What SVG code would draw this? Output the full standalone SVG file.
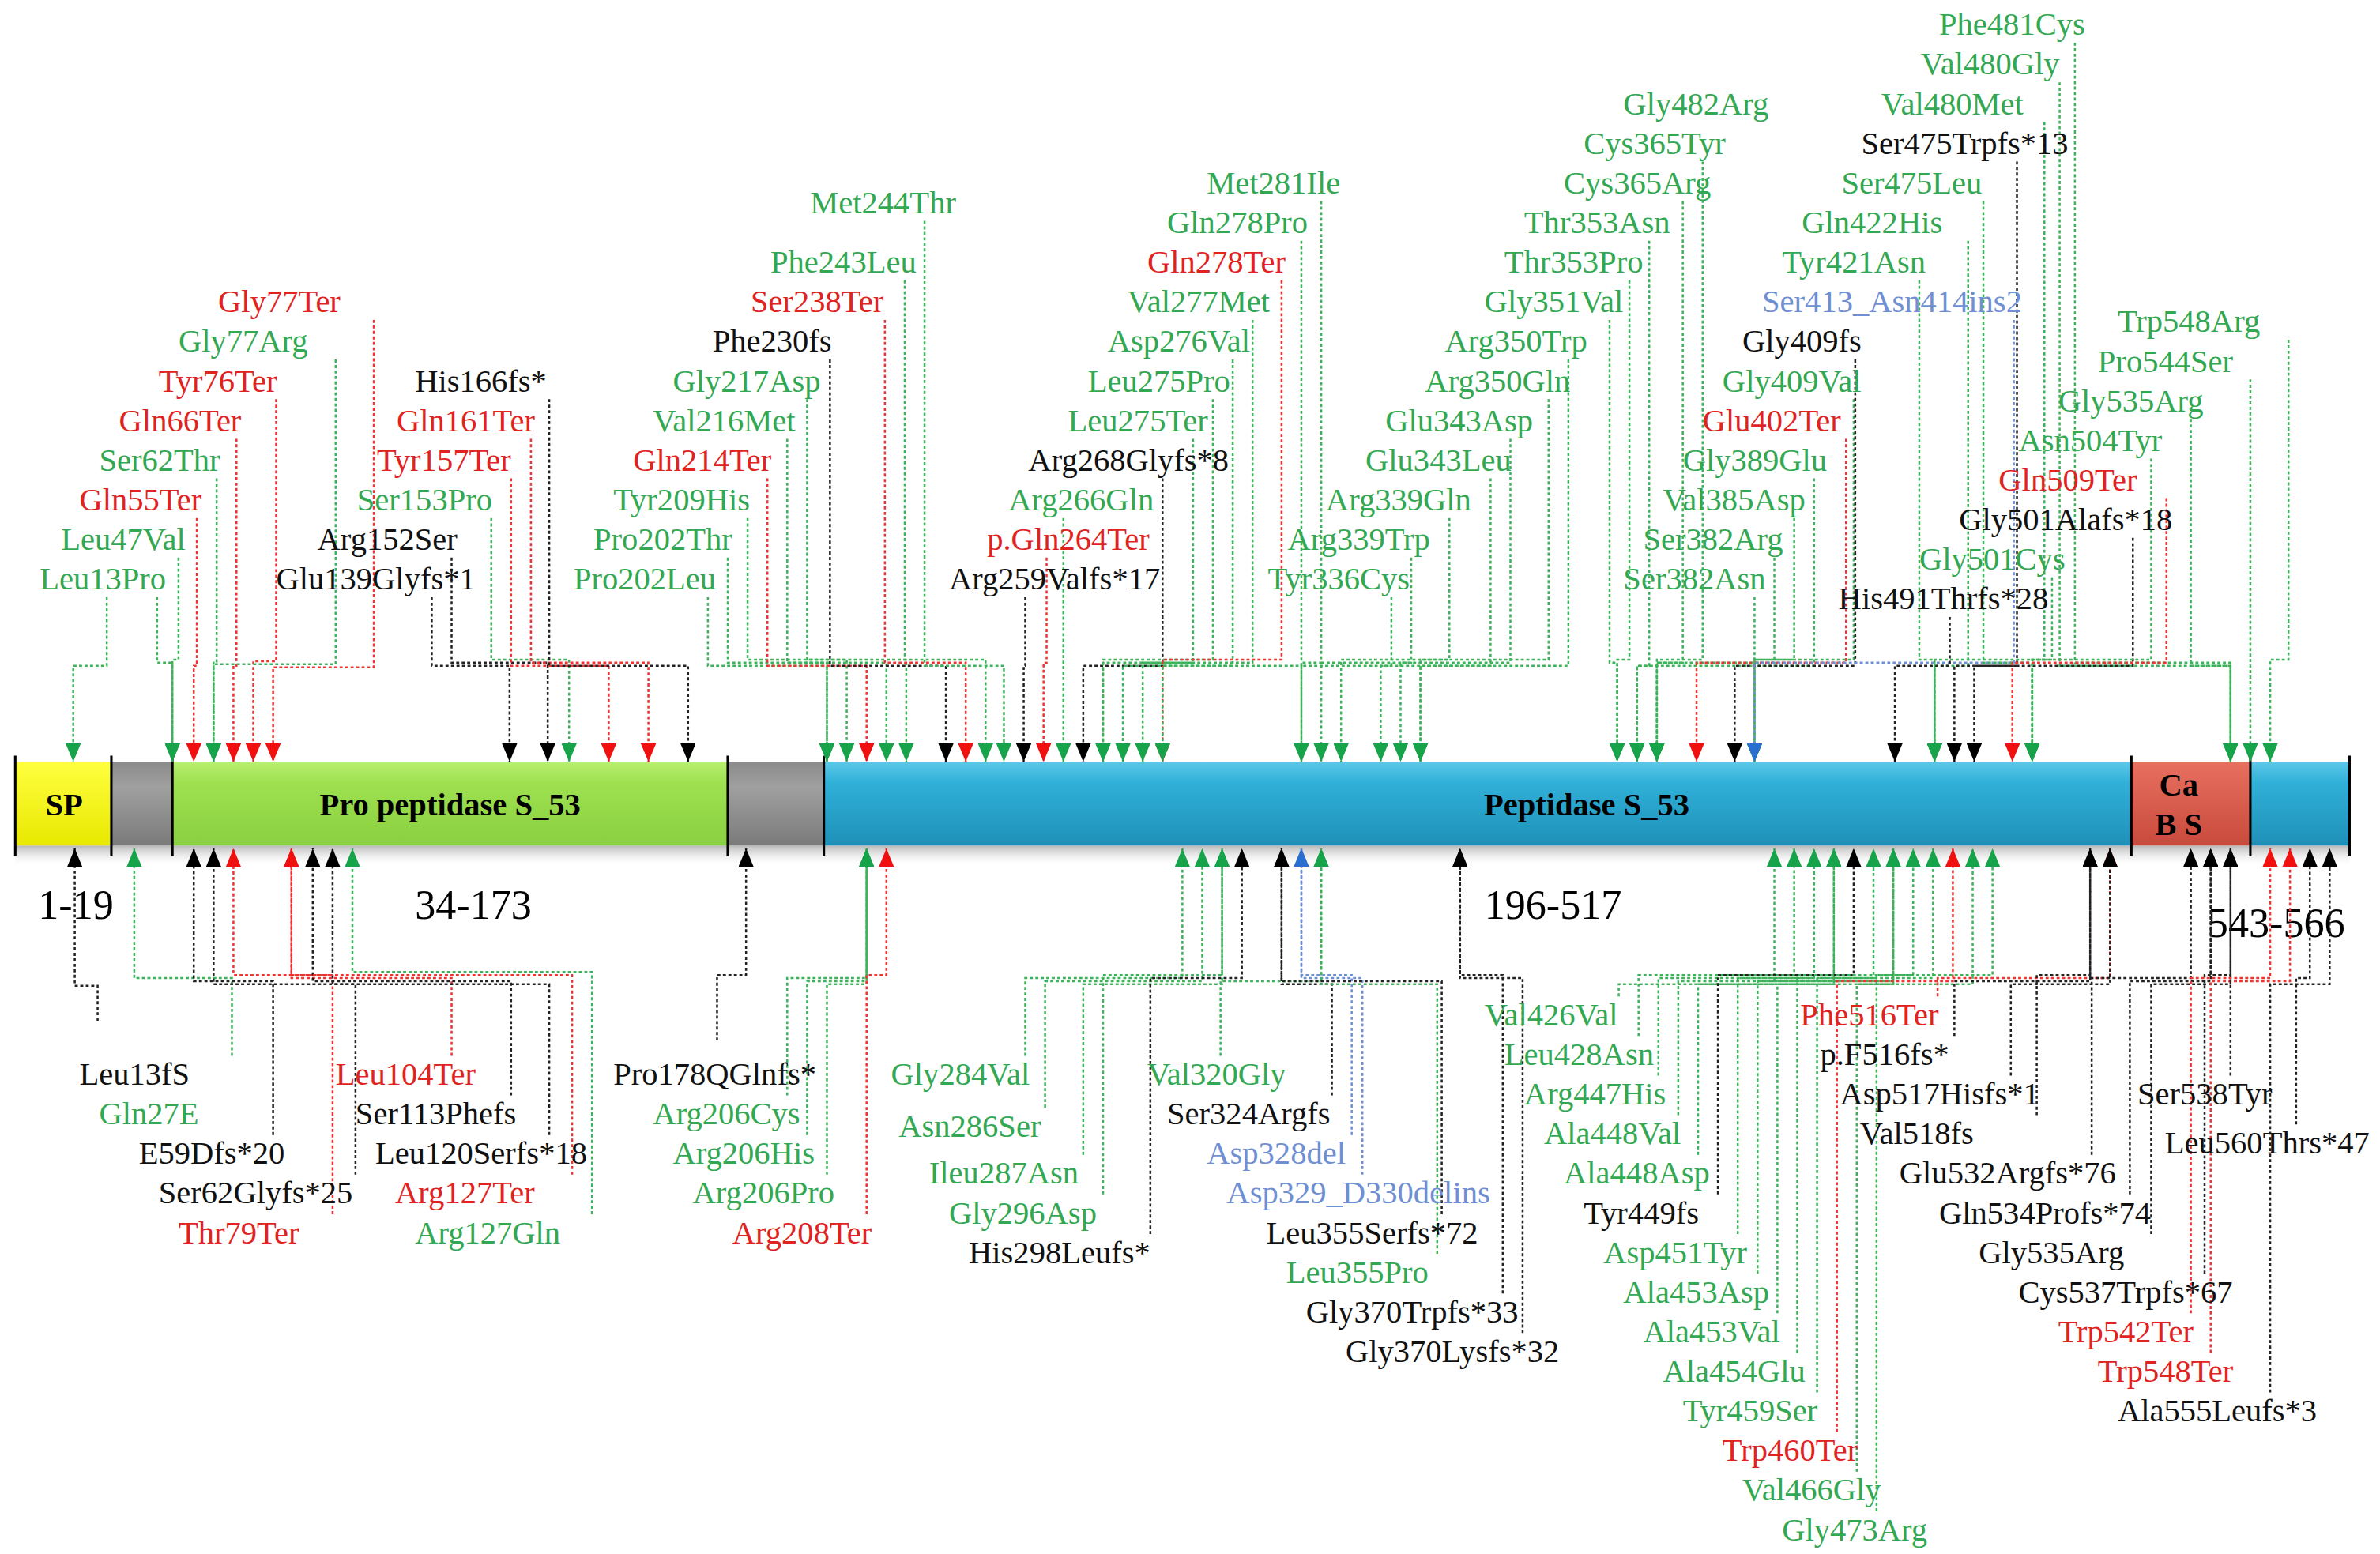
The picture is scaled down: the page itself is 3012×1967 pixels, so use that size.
<svg xmlns="http://www.w3.org/2000/svg" width="3012" height="1967" viewBox="0 0 3012 1967">
<style>
text{font-family:"Liberation Serif","Times New Roman",serif;font-size:21px}
.tg{fill:#33a852}.tr{fill:#e0231f}.tk{fill:#111}.tb{fill:#6f8fd3}
.dom{font-weight:bold;font-size:21px}
.num{font-size:27px}
path.c{fill:none;stroke-width:1.3;stroke-dasharray:2 1.6}
.g{stroke:#3cb35a;marker-end:url(#mg)}.r{stroke:#e33;marker-end:url(#mr)}.k{stroke:#222;marker-end:url(#mk)}.b{stroke:#6f8fd3;marker-end:url(#mb)}
.sep{stroke:#000;stroke-width:1.6}
</style>
<defs>
<marker id="mg" viewBox="0 0 12 10" refX="12" refY="5" markerWidth="12" markerHeight="10" markerUnits="userSpaceOnUse" orient="auto"><path d="M0,0L12,5L0,10z" fill="#17a34a"/></marker>
<marker id="mr" viewBox="0 0 12 10" refX="12" refY="5" markerWidth="12" markerHeight="10" markerUnits="userSpaceOnUse" orient="auto"><path d="M0,0L12,5L0,10z" fill="#f01010"/></marker>
<marker id="mk" viewBox="0 0 12 10" refX="12" refY="5" markerWidth="12" markerHeight="10" markerUnits="userSpaceOnUse" orient="auto"><path d="M0,0L12,5L0,10z" fill="#000"/></marker>
<marker id="mb" viewBox="0 0 12 10" refX="12" refY="5" markerWidth="12" markerHeight="10" markerUnits="userSpaceOnUse" orient="auto"><path d="M0,0L12,5L0,10z" fill="#2a6fd0"/></marker>
<linearGradient id="gy" x1="0" y1="0" x2="0" y2="1"><stop offset="0" stop-color="#ffff40"/><stop offset="1" stop-color="#e8e800"/></linearGradient>
<linearGradient id="gg" x1="0" y1="0" x2="0" y2="1"><stop offset="0" stop-color="#8a8a8a"/><stop offset="0.3" stop-color="#a0a0a0"/><stop offset="1" stop-color="#7a7a7a"/></linearGradient>
<linearGradient id="gl" x1="0" y1="0" x2="0" y2="1"><stop offset="0" stop-color="#b8f070"/><stop offset="0.25" stop-color="#9ee050"/><stop offset="1" stop-color="#8ad040"/></linearGradient>
<linearGradient id="gb" x1="0" y1="0" x2="0" y2="1"><stop offset="0" stop-color="#5cc8e8"/><stop offset="0.25" stop-color="#30b0d8"/><stop offset="1" stop-color="#1e90b8"/></linearGradient>
<linearGradient id="gr" x1="0" y1="0" x2="0" y2="1"><stop offset="0" stop-color="#e87060"/><stop offset="1" stop-color="#c84a3c"/></linearGradient>
<linearGradient id="sh" x1="0" y1="0" x2="0" y2="1"><stop offset="0" stop-color="#999" stop-opacity="0.7"/><stop offset="1" stop-color="#fff" stop-opacity="0"/></linearGradient>
</defs>
<rect width="3012" height="1967" fill="#fff"/>
<g transform="scale(1.9308,1.9284)">
<rect x="10" y="555" width="1530" height="14" fill="url(#sh)"/>
<g id="sp"><rect x="10" y="500" width="63" height="55" fill="url(#gy)"/><text class="dom" x="42" y="535" text-anchor="middle">SP</text></g>
<g id="gap1"><rect x="73" y="500" width="40" height="55" fill="url(#gg)"/></g>
<g id="pro"><rect x="113" y="500" width="364" height="55" fill="url(#gl)"/><text class="dom" x="295" y="535" text-anchor="middle">Pro peptidase S_53</text></g>
<g id="gap2"><rect x="477" y="500" width="63" height="55" fill="url(#gg)"/></g>
<g id="pep"><rect x="540" y="500" width="857" height="55" fill="url(#gb)"/><text class="dom" x="1040" y="535" text-anchor="middle">Peptidase S_53</text></g>
<g id="cabs"><rect x="1397" y="500" width="78" height="55" fill="url(#gr)"/><text class="dom" x="1428" y="522" text-anchor="middle">Ca</text><text class="dom" x="1428" y="548" text-anchor="middle">B S</text></g>
<g id="tail"><rect x="1475" y="500" width="65" height="55" fill="url(#gb)"/></g>
<g id="seps">
<path class="sep" d="M10 496V562M73 496V562M113 496V562M477 496V562M540 496V562M1397 496V562M1475 496V562M1540 496V562"/>
</g>
<g id="ranges">
<text class="num" x="25" y="603">1-19</text><text class="num" x="272" y="603">34-173</text><text class="num" x="973" y="603">196-517</text><text class="num" x="1447" y="615">543-566</text>
</g>
<g id="connectors">
<path class="c g" d="M70 392V437H48V500"/>
<path class="c g" d="M103 392V435H113V500"/>
<path class="c g" d="M117 366V433H113V500"/>
<path class="c r" d="M129 340V437H127V500"/>
<path class="c g" d="M142 314V435H140V500"/>
<path class="c r" d="M155 288V437H153V500"/>
<path class="c r" d="M181 262V434H166V500"/>
<path class="c g" d="M220 236V436H140V500"/>
<path class="c r" d="M245 210V438H179V500"/>
<path class="c k" d="M283 392V437H334V500"/>
<path class="c k" d="M296 366V435H359V500"/>
<path class="c g" d="M322 340V433H373V500"/>
<path class="c r" d="M335 314V437H399V500"/>
<path class="c r" d="M348 288V435H425V500"/>
<path class="c k" d="M360 262V437H451V500"/>
<path class="c g" d="M464 392V437H542V500"/>
<path class="c g" d="M477 366V435H542V500"/>
<path class="c g" d="M490 340V433H555V500"/>
<path class="c r" d="M503 314V437H568V500"/>
<path class="c g" d="M516 288V435H581V500"/>
<path class="c g" d="M529 262V433H594V500"/>
<path class="c k" d="M544 236V437H620V500"/>
<path class="c r" d="M580 210V435H633V500"/>
<path class="c g" d="M593 184V433H646V500"/>
<path class="c g" d="M606 145V437H658V500"/>
<path class="c k" d="M672 392V437H671V500"/>
<path class="c r" d="M686 366V435H684V500"/>
<path class="c g" d="M697 340V433H697V500"/>
<path class="c k" d="M762 314V437H710V500"/>
<path class="c g" d="M782 288V435H723V500"/>
<path class="c g" d="M795 262V433H723V500"/>
<path class="c g" d="M808 236V437H736V500"/>
<path class="c g" d="M821 210V435H749V500"/>
<path class="c r" d="M840 184V433H762V500"/>
<path class="c g" d="M853 158V437H762V500"/>
<path class="c g" d="M866 132V435H853V500"/>
<path class="c g" d="M912 392V437H853V500"/>
<path class="c g" d="M925 366V435H866V500"/>
<path class="c g" d="M950 340V433H879V500"/>
<path class="c g" d="M977 314V437H905V500"/>
<path class="c g" d="M990 288V435H918V500"/>
<path class="c g" d="M1015 262V433H931V500"/>
<path class="c g" d="M1028 236V437H931V500"/>
<path class="c g" d="M1055 210V435H1060V500"/>
<path class="c g" d="M1068 184V433H1060V500"/>
<path class="c g" d="M1081 158V437H1073V500"/>
<path class="c g" d="M1103 132V435H1086V500"/>
<path class="c g" d="M1116 106V433H1086V500"/>
<path class="c g" d="M1150 392V437H1073V500"/>
<path class="c g" d="M1163 366V435H1086V500"/>
<path class="c g" d="M1176 340V433H1150V500"/>
<path class="c g" d="M1189 314V437H1150V500"/>
<path class="c r" d="M1210 288V435H1112V500"/>
<path class="c g" d="M1215 262V433H1150V500"/>
<path class="c k" d="M1216 236V437H1137V500"/>
<path class="c b" d="M1320 210V435H1150V500"/>
<path class="c g" d="M1258 184V433H1268V500"/>
<path class="c g" d="M1290 158V437H1268V500"/>
<path class="c g" d="M1300 132V435H1332V500"/>
<path class="c k" d="M1322 106V437H1294V500"/>
<path class="c g" d="M1340 80V433H1332V500"/>
<path class="c g" d="M1350 54V437H1462V500"/>
<path class="c g" d="M1360 28V435H1462V500"/>
<path class="c k" d="M1278 405V437H1242V500"/>
<path class="c g" d="M1345 379V433H1268V500"/>
<path class="c k" d="M1398 353V437H1281V500"/>
<path class="c r" d="M1420 327V435H1319V500"/>
<path class="c g" d="M1410 301V433H1332V500"/>
<path class="c g" d="M1436 275V437H1462V500"/>
<path class="c g" d="M1475 249V435H1475V500"/>
<path class="c g" d="M1500 223V433H1488V500"/>
<path class="c k" d="M64 670V647H49V557"/>
<path class="c g" d="M152 693V642H88V557"/>
<path class="c k" d="M179 745V644H127V557"/>
<path class="c k" d="M233 771V646H140V557"/>
<path class="c r" d="M218 797V640H153V557"/>
<path class="c r" d="M296 693V642H191V557"/>
<path class="c k" d="M335 719V644H205V557"/>
<path class="c k" d="M360 745V646H218V557"/>
<path class="c r" d="M375 771V640H191V557"/>
<path class="c g" d="M388 797V638H231V557"/>
<path class="c k" d="M470 683V640H489V557"/>
<path class="c g" d="M516 719V642H568V557"/>
<path class="c g" d="M529 745V644H568V557"/>
<path class="c g" d="M542 771V646H568V557"/>
<path class="c r" d="M568 797V640H581V557"/>
<path class="c g" d="M672 693V642H775V557"/>
<path class="c g" d="M685 727V644H788V557"/>
<path class="c g" d="M710 758V646H801V557"/>
<path class="c g" d="M723 784V640H801V557"/>
<path class="c k" d="M754 810V642H814V557"/>
<path class="c g" d="M800 693V644H866V557"/>
<path class="c k" d="M873 719V646H840V557"/>
<path class="c b" d="M886 745V640H853V557"/>
<path class="c b" d="M893 771V642H853V557"/>
<path class="c k" d="M945 797V644H840V557"/>
<path class="c g" d="M942 823V646H866V557"/>
<path class="c k" d="M985 849V640H957V557"/>
<path class="c k" d="M998 875V642H957V557"/>
<path class="c g" d="M1061 654V646H1163V557"/>
<path class="c g" d="M1074 680V640H1176V557"/>
<path class="c g" d="M1087 706V642H1189V557"/>
<path class="c g" d="M1100 732V644H1202V557"/>
<path class="c g" d="M1113 758V646H1202V557"/>
<path class="c k" d="M1126 784V640H1215V557"/>
<path class="c g" d="M1139 810V642H1228V557"/>
<path class="c g" d="M1152 836V644H1241V557"/>
<path class="c g" d="M1165 862V646H1241V557"/>
<path class="c g" d="M1178 888V640H1254V557"/>
<path class="c g" d="M1191 914V642H1267V557"/>
<path class="c r" d="M1204 940V644H1280V557"/>
<path class="c g" d="M1217 966V646H1293V557"/>
<path class="c g" d="M1230 992V640H1306V557"/>
<path class="c r" d="M1270 654V642H1383V557"/>
<path class="c k" d="M1281 680V644H1370V557"/>
<path class="c k" d="M1318 706V646H1383V557"/>
<path class="c k" d="M1335 732V640H1370V557"/>
<path class="c k" d="M1371 758V642H1436V557"/>
<path class="c k" d="M1396 784V644H1449V557"/>
<path class="c k" d="M1410 810V646H1462V557"/>
<path class="c k" d="M1445 836V640H1462V557"/>
<path class="c r" d="M1436 862V642H1488V557"/>
<path class="c r" d="M1449 888V644H1501V557"/>
<path class="c k" d="M1488 914V646H1527V557"/>
<path class="c k" d="M1462 706V640H1449V557"/>
<path class="c k" d="M1505 738V642H1514V557"/>
</g>
<g id="labels">
<text class="tg" x="26" y="387">Leu13Pro</text>
<text class="tg" x="40" y="361">Leu47Val</text>
<text class="tr" x="52" y="335">Gln55Ter</text>
<text class="tg" x="65" y="309">Ser62Thr</text>
<text class="tr" x="78" y="283">Gln66Ter</text>
<text class="tr" x="104" y="257">Tyr76Ter</text>
<text class="tg" x="117" y="231">Gly77Arg</text>
<text class="tr" x="143" y="205">Gly77Ter</text>
<text class="tk" x="181" y="387">Glu139Glyfs*1</text>
<text class="tk" x="208" y="361">Arg152Ser</text>
<text class="tg" x="234" y="335">Ser153Pro</text>
<text class="tr" x="247" y="309">Tyr157Ter</text>
<text class="tr" x="260" y="283">Gln161Ter</text>
<text class="tk" x="272" y="257">His166fs*</text>
<text class="tg" x="376" y="387">Pro202Leu</text>
<text class="tg" x="389" y="361">Pro202Thr</text>
<text class="tg" x="402" y="335">Tyr209His</text>
<text class="tr" x="415" y="309">Gln214Ter</text>
<text class="tg" x="428" y="283">Val216Met</text>
<text class="tg" x="441" y="257">Gly217Asp</text>
<text class="tk" x="467" y="231">Phe230fs</text>
<text class="tr" x="492" y="205">Ser238Ter</text>
<text class="tg" x="505" y="179">Phe243Leu</text>
<text class="tg" x="531" y="140">Met244Thr</text>
<text class="tk" x="622" y="387">Arg259Valfs*17</text>
<text class="tr" x="647" y="361">p.Gln264Ter</text>
<text class="tg" x="661" y="335">Arg266Gln</text>
<text class="tk" x="674" y="309">Arg268Glyfs*8</text>
<text class="tg" x="700" y="283">Leu275Ter</text>
<text class="tg" x="713" y="257">Leu275Pro</text>
<text class="tg" x="726" y="231">Asp276Val</text>
<text class="tg" x="739" y="205">Val277Met</text>
<text class="tr" x="752" y="179">Gln278Ter</text>
<text class="tg" x="765" y="153">Gln278Pro</text>
<text class="tg" x="791" y="127">Met281Ile</text>
<text class="tg" x="831" y="387">Tyr336Cys</text>
<text class="tg" x="844" y="361">Arg339Trp</text>
<text class="tg" x="869" y="335">Arg339Gln</text>
<text class="tg" x="895" y="309">Glu343Leu</text>
<text class="tg" x="908" y="283">Glu343Asp</text>
<text class="tg" x="934" y="257">Arg350Gln</text>
<text class="tg" x="947" y="231">Arg350Trp</text>
<text class="tg" x="973" y="205">Gly351Val</text>
<text class="tg" x="986" y="179">Thr353Pro</text>
<text class="tg" x="999" y="153">Thr353Asn</text>
<text class="tg" x="1025" y="127">Cys365Arg</text>
<text class="tg" x="1038" y="101">Cys365Tyr</text>
<text class="tg" x="1064" y="75">Gly482Arg</text>
<text class="tg" x="1064" y="387">Ser382Asn</text>
<text class="tg" x="1077" y="361">Ser382Arg</text>
<text class="tg" x="1090" y="335">Val385Asp</text>
<text class="tg" x="1103" y="309">Gly389Glu</text>
<text class="tr" x="1116" y="283">Glu402Ter</text>
<text class="tg" x="1129" y="257">Gly409Val</text>
<text class="tk" x="1142" y="231">Gly409fs</text>
<text class="tb" x="1155" y="205">Ser413_Asn414ins2</text>
<text class="tg" x="1168" y="179">Tyr421Asn</text>
<text class="tg" x="1181" y="153">Gln422His</text>
<text class="tg" x="1207" y="127">Ser475Leu</text>
<text class="tk" x="1220" y="101">Ser475Trpfs*13</text>
<text class="tg" x="1233" y="75">Val480Met</text>
<text class="tg" x="1259" y="49">Val480Gly</text>
<text class="tg" x="1271" y="23">Phe481Cys</text>
<text class="tk" x="1205" y="400">His491Thrfs*28</text>
<text class="tg" x="1258" y="374">Gly501Cys</text>
<text class="tk" x="1284" y="348">Gly501Alafs*18</text>
<text class="tr" x="1310" y="322">Gln509Ter</text>
<text class="tg" x="1323" y="296">Asn504Tyr</text>
<text class="tg" x="1349" y="270">Gly535Arg</text>
<text class="tg" x="1375" y="244">Pro544Ser</text>
<text class="tg" x="1388" y="218">Trp548Arg</text>
<text class="tk" x="52" y="712">Leu13fS</text>
<text class="tg" x="65" y="738">Gln27E</text>
<text class="tk" x="91" y="764">E59Dfs*20</text>
<text class="tk" x="104" y="790">Ser62Glyfs*25</text>
<text class="tr" x="117" y="816">Thr79Ter</text>
<text class="tr" x="220" y="712">Leu104Ter</text>
<text class="tk" x="233" y="738">Ser113Phefs</text>
<text class="tk" x="246" y="764">Leu120Serfs*18</text>
<text class="tr" x="259" y="790">Arg127Ter</text>
<text class="tg" x="272" y="816">Arg127Gln</text>
<text class="tk" x="402" y="712">Pro178QGlnfs*</text>
<text class="tg" x="428" y="738">Arg206Cys</text>
<text class="tg" x="441" y="764">Arg206His</text>
<text class="tg" x="454" y="790">Arg206Pro</text>
<text class="tr" x="480" y="816">Arg208Ter</text>
<text class="tg" x="584" y="712">Gly284Val</text>
<text class="tg" x="589" y="746">Asn286Ser</text>
<text class="tg" x="609" y="777">Ileu287Asn</text>
<text class="tg" x="622" y="803">Gly296Asp</text>
<text class="tk" x="635" y="829">His298Leufs*</text>
<text class="tg" x="752" y="712">Val320Gly</text>
<text class="tk" x="765" y="738">Ser324Argfs</text>
<text class="tb" x="791" y="764">Asp328del</text>
<text class="tb" x="804" y="790">Asp329_D330delins</text>
<text class="tk" x="830" y="816">Leu355Serfs*72</text>
<text class="tg" x="843" y="842">Leu355Pro</text>
<text class="tk" x="856" y="868">Gly370Trpfs*33</text>
<text class="tk" x="882" y="894">Gly370Lysfs*32</text>
<text class="tg" x="973" y="673">Val426Val</text>
<text class="tg" x="986" y="699">Leu428Asn</text>
<text class="tg" x="999" y="725">Arg447His</text>
<text class="tg" x="1012" y="751">Ala448Val</text>
<text class="tg" x="1025" y="777">Ala448Asp</text>
<text class="tk" x="1038" y="803">Tyr449fs</text>
<text class="tg" x="1051" y="829">Asp451Tyr</text>
<text class="tg" x="1064" y="855">Ala453Asp</text>
<text class="tg" x="1077" y="881">Ala453Val</text>
<text class="tg" x="1090" y="907">Ala454Glu</text>
<text class="tg" x="1103" y="933">Tyr459Ser</text>
<text class="tr" x="1129" y="959">Trp460Ter</text>
<text class="tg" x="1142" y="985">Val466Gly</text>
<text class="tg" x="1168" y="1011">Gly473Arg</text>
<text class="tr" x="1180" y="673">Phe516Ter</text>
<text class="tk" x="1193" y="699">p.F516fs*</text>
<text class="tk" x="1206" y="725">Asp517Hisfs*1</text>
<text class="tk" x="1219" y="751">Val518fs</text>
<text class="tk" x="1245" y="777">Glu532Argfs*76</text>
<text class="tk" x="1271" y="803">Gln534Profs*74</text>
<text class="tk" x="1297" y="829">Gly535Arg</text>
<text class="tk" x="1323" y="855">Cys537Trpfs*67</text>
<text class="tr" x="1349" y="881">Trp542Ter</text>
<text class="tr" x="1375" y="907">Trp548Ter</text>
<text class="tk" x="1388" y="933">Ala555Leufs*3</text>
<text class="tk" x="1401" y="725">Ser538Tyr</text>
<text class="tk" x="1419" y="757">Leu560Thrs*47</text>
</g>
</g>
</svg>
